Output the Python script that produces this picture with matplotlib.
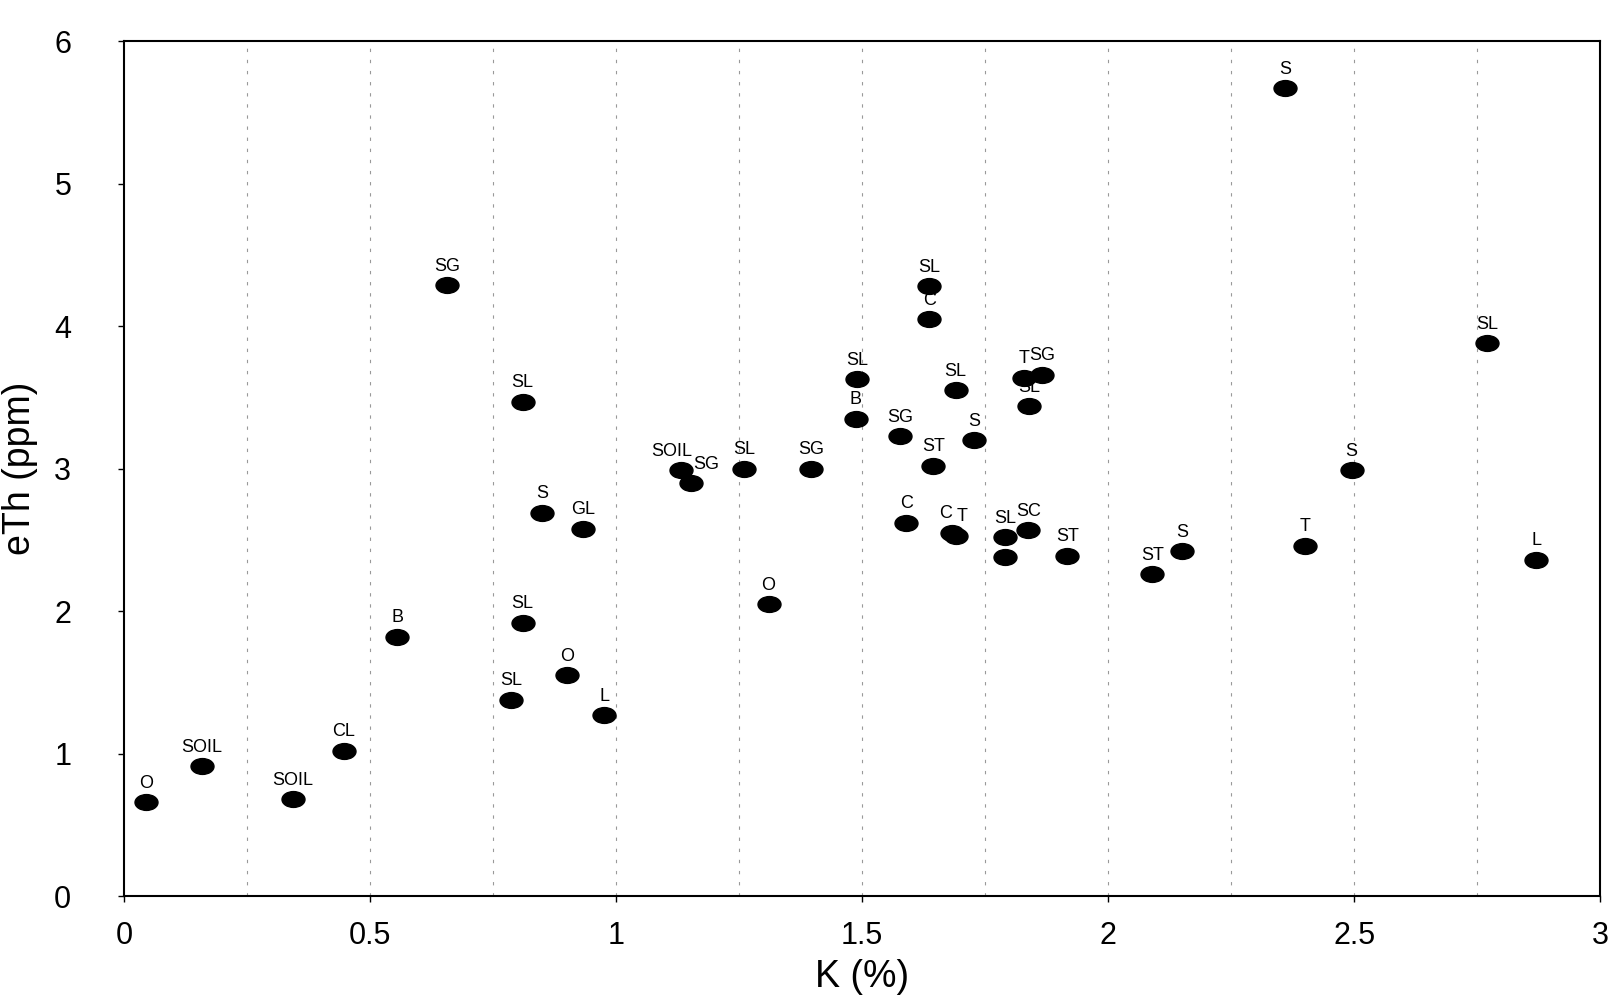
import numpy as np
import matplotlib
matplotlib.use('Agg')
import matplotlib.pyplot as plt
from matplotlib.markers import MarkerStyle
from matplotlib.transforms import Affine2D

plt.rcParams['font.family'] = ['Liberation Sans', 'DejaVu Sans']

# K (%), eTh (ppm) and sample type
k_pct = [0.044, 0.158, 0.343, 0.446, 0.555, 0.656, 0.81, 0.85, 0.932, 0.81,
         0.787, 0.90, 0.976, 1.132, 1.153, 1.26, 1.31, 1.397, 1.49, 1.487,
         1.578, 1.59, 1.637, 1.637, 1.645, 1.69, 1.727, 1.683, 1.69, 1.79,
         1.79, 1.838, 1.917, 1.83, 1.866, 1.84, 2.09, 2.15, 2.36, 2.40,
         2.495, 2.77, 2.87]
eth_ppm = [0.66, 0.91, 0.68, 1.02, 1.82, 4.29, 3.47, 2.69, 2.58, 1.92,
           1.38, 1.55, 1.27, 2.99, 2.90, 3.00, 2.05, 3.00, 3.63, 3.35,
           3.23, 2.62, 4.28, 4.05, 3.02, 3.55, 3.20, 2.55, 2.53, 2.52,
           2.38, 2.57, 2.39, 3.64, 3.66, 3.44, 2.26, 2.42, 5.67, 2.46,
           2.99, 3.88, 2.36]
sample = ['O', 'SOIL', 'SOIL', 'CL', 'B', 'SG', 'SL', 'S', 'GL', 'SL',
          'SL', 'O', 'L', 'SOIL', 'SG', 'SL', 'O', 'SG', 'SL', 'B',
          'SG', 'C', 'SL', 'C', 'ST', 'SL', 'S', 'C', 'T', 'SL',
          'S', 'SC', 'ST', 'T', 'SG', 'SL', 'ST', 'S', 'S', 'T',
          'S', 'SL', 'L']

# small sideways nudges for labels that sit on top of each other
nudge = {13: -7, 14: 11, 27: -5, 28: 5}

fig = plt.figure(figsize=(16.22, 10.08), dpi=100)
ax = fig.add_axes([0.0765, 0.111, 0.910, 0.848])

# faint dashed vertical grid, as in the scan
for gx in np.arange(0.25, 3.0, 0.25):
    ax.axvline(gx, color='0.6', lw=0.8, ls=(0, (3, 7)), zorder=0)

ell = MarkerStyle('o', transform=Affine2D().scale(1.45, 1.0))
ax.scatter(k_pct, eth_ppm, marker=ell, s=130, color='black', zorder=3)

for i, (x, y, lab) in enumerate(zip(k_pct, eth_ppm, sample)):
    ax.annotate(lab, (x, y), xytext=(nudge.get(i, 0), 7.5),
                textcoords='offset points',
                ha='center', va='bottom', fontsize=13, zorder=2)

ax.set_xlim(0, 3)
ax.set_ylim(0, 6)
ax.set_xticks([0, 0.5, 1, 1.5, 2, 2.5, 3])
ax.set_xticklabels(['0', '0.5', '1', '1.5', '2', '2.5', '3'])
ax.set_yticks([0, 1, 2, 3, 4, 5, 6])
ax.tick_params(axis='both', labelsize=22, length=4, width=1)
ax.tick_params(axis='y', pad=34)
ax.tick_params(axis='x', pad=14)
for sp in ax.spines.values():
    sp.set_linewidth(1.5)

ax.set_xlabel('K (%)', fontsize=27, labelpad=6)
ax.set_ylabel('eTh (ppm)', fontsize=27, labelpad=12)

fig.savefig('out.png', dpi=100)
